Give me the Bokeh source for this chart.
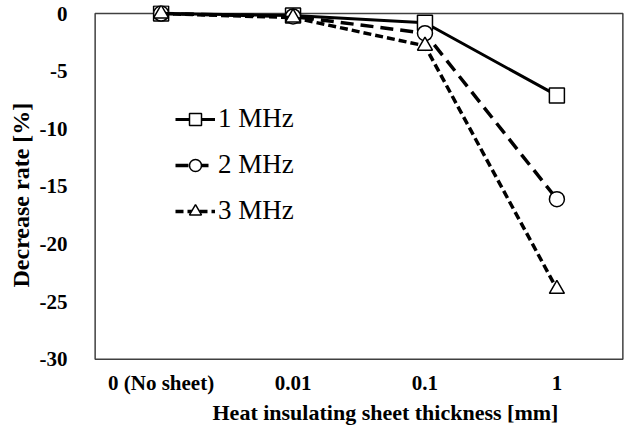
from bokeh.plotting import figure
from bokeh.models import FactorRange, Range1d, Legend, LegendItem, FixedTicker, Title
from bokeh.embed import file_html
from bokeh.resources import INLINE

categories = ["0 (No sheet)", "0.01", "0.1", "1"]
mhz1 = [0.0, -0.17, -0.8, -7.1]
mhz2 = [0.0, -0.25, -1.7, -16.1]
mhz3 = [0.0, -0.35, -2.8, -23.9]
series_names = ["1 MHz", "2 MHz", "3 MHz"]
y_ticks = [0, -5, -10, -15, -20, -25, -30]
y_tick_labels = ["0", "-5", "-10", "-15", "-20", "-25", "-30"]

FONT = "Liberation Serif"
FRAME = "#404040"

p = figure(width=625, height=428,
           x_range=FactorRange(*categories, range_padding=0.02, range_padding_units="absolute"),
           y_range=Range1d(-30.1, 0.7), output_backend="svg", toolbar_location=None,
           min_border_left=92, min_border_right=0, min_border_top=5, min_border_bottom=68)

p.xgrid.visible = False
p.ygrid.visible = False
p.outline_line_color = None
p.background_fill_color = "white"

for ax in (p.xaxis[0], p.yaxis[0]):
    ax.axis_line_color = None
    ax.major_tick_line_color = None
    ax.minor_tick_line_color = None
    ax.major_label_text_font = FONT
    ax.major_label_text_font_style = "bold"
    ax.major_label_text_font_size = "21px"
    ax.major_label_text_color = "black"

p.yaxis.ticker = FixedTicker(ticks=y_ticks)
p.yaxis.major_label_overrides = {t: s for t, s in zip(y_ticks, y_tick_labels)}
p.yaxis.major_label_standoff = 19
p.xaxis.major_label_standoff = 4

xtitle = Title(text="Heat insulating sheet thickness [mm]", align="left", offset=120,
               text_font=FONT, text_font_style="bold", text_font_size="22px",
               text_color="black", standoff=0)
p.add_layout(xtitle, "below")

ytitle = Title(text="Decrease rate [%]", align="left", offset=73,
               text_font=FONT, text_font_style="bold", text_font_size="24px",
               text_color="black", standoff=6)
p.add_layout(ytitle, "left")

# plot-area border
p.quad(left=[0], right=[4], top=[0], bottom=[-30], fill_color=None,
       line_color=FRAME, line_width=1.5)

styles = [
    (mhz1, "solid", "square", 3),
    (mhz2, "13 7", "circle", 3.5),
    (mhz3, "8 4", "triangle", 3.5),
]
items = []
for (vals, dash, marker, lw), name in zip(styles, series_names):
    l = p.line(categories, vals, line_color="black", line_width=lw, line_dash=dash)
    s = p.scatter(categories, vals, marker=marker, size=15, fill_color="white",
                  line_color="black", line_width=1.5)
    items.append(LegendItem(label=name, renderers=[l, s]))

legend = Legend(items=items, location=(83, 134), glyph_width=40, glyph_height=30,
                label_height=30, spacing=15, padding=0, margin=0,
                label_text_font=FONT, label_text_font_size="27px",
                label_text_color="black",
                label_standoff=3, border_line_color=None, background_fill_alpha=0)
p.add_layout(legend)

open("out.html", "w").write(file_html(p, INLINE))
